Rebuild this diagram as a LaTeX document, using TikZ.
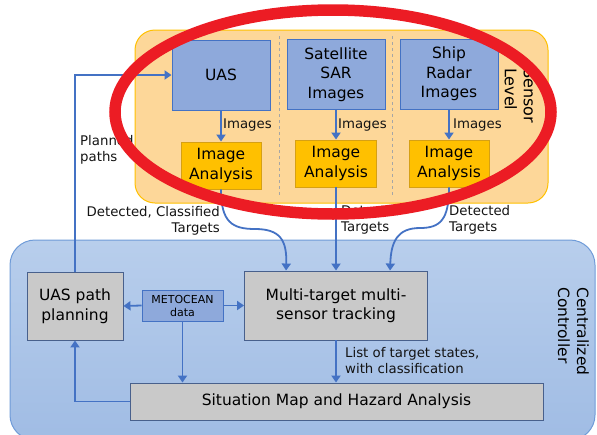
\documentclass[tikz,border=0pt]{standalone}
\usepackage{fontspec}
\setmainfont{DejaVu Sans}
\usetikzlibrary{arrows.meta,calc}

\definecolor{sensorbg}{RGB}{253,215,153}
\definecolor{sensorline}{RGB}{255,192,0}
\definecolor{ctrltop}{RGB}{184,206,236}
\definecolor{ctrlbot}{RGB}{160,188,228}
\definecolor{ctrlline}{RGB}{111,155,216}
\definecolor{srcfill}{RGB}{142,169,219}
\definecolor{srcline}{RGB}{68,114,196}
\definecolor{iafill}{RGB}{255,192,0}
\definecolor{ialine}{RGB}{214,160,20}
\definecolor{grayfill}{RGB}{201,201,201}
\definecolor{grayline}{RGB}{72,96,140}
\definecolor{flow}{RGB}{68,114,196}
\definecolor{markred}{RGB}{236,28,36}

\tikzset{
  boxtext/.style={font=\fontsize{15.5}{19.5}\selectfont, align=center, inner sep=0pt},
  srcbox/.style={boxtext, draw=srcline, fill=srcfill, line width=0.9pt},
  iabox/.style={boxtext, draw=ialine, fill=iafill, line width=0.9pt},
  procbox/.style={boxtext, draw=grayline, fill=grayfill, line width=0.9pt},
  flowarrow/.style={draw=flow, line width=1.8pt, -{Triangle[length=7pt,width=9pt]}},
  lbl/.style={font=\fontsize{13.3}{16}\selectfont, inner sep=0pt, text=black!92},
  grouplbl/.style={font=\fontsize{16}{19}\selectfont, inner sep=0pt, align=left, rotate=-90},
}

\begin{document}
\begin{tikzpicture}[x=1pt, y=-1pt]
\useasboundingbox (0,0) rectangle (597,434);

% group backgrounds
\draw[fill=sensorbg, draw=sensorline, line width=1pt, rounded corners=20pt]
  (135,30) rectangle (548,203);
\shade[top color=ctrltop, bottom color=ctrlbot, rounded corners=25pt]
  (10,240) rectangle (595,440);
\draw[draw=ctrlline, line width=1pt, rounded corners=25pt]
  (10,240) rectangle (595,440);

% separators between the three sensor columns
\draw[gray!70, dashed, line width=1pt] (279,36) -- (279,197);
\draw[gray!70, dashed, line width=1pt] (392,36) -- (392,197);

% sensor sources
\node[srcbox, minimum width=98pt, minimum height=70pt] (uas) at (221,75) {UAS};
\node[srcbox, minimum width=98pt, minimum height=70pt] (sat) at (336,74.5) {Satellite\\SAR\\Images};
\node[srcbox, minimum width=98pt, minimum height=70pt] (ship) at (449,74) {Ship\\Radar\\Images};

% image analysis stages
\node[iabox, minimum width=80pt, minimum height=47pt] (ia1) at (221,165.5) {Image\\Analysis};
\node[iabox, minimum width=81pt, minimum height=47pt] (ia2) at (336,163.5) {Image\\Analysis};
\node[iabox, minimum width=80pt, minimum height=47pt] (ia3) at (449,163.5) {Image\\Analysis};

% centralized controller blocks
\node[procbox, minimum width=96pt, minimum height=68pt] (plan) at (75,306) {UAS path\\planning};
\node[boxtext, draw=srcline, fill=srcfill, line width=0.9pt, minimum width=81pt, minimum height=31pt,
      font=\fontsize{11}{13}\selectfont] (meto) at (182.5,305.5) {METOCEAN\\data};
\node[procbox, minimum width=183pt, minimum height=69pt] (mtt) at (336,305.5) {Multi-target multi-\\sensor tracking};
\node[procbox, minimum width=413pt, minimum height=37pt] (sit) at (336.5,401.5) {Situation Map and Hazard Analysis};

% sensor level flows
\draw[flowarrow] (uas.south) -- (ia1.north);
\draw[flowarrow] (sat.south) -- (ia2.north);
\draw[flowarrow] (ship.south) -- (ia3.north);
\node[lbl, anchor=west] (img1) at (223,125) {Images};
\node[lbl, anchor=west] (img2) at (338,125) {Images};
\node[lbl, anchor=west] (img3) at (453,125) {Images};

% detections into the tracker
\coordinate (in1) at ($(mtt.north west)+(42,0)$);
\coordinate (in3) at ($(mtt.north west)+(146,0)$);
\draw[flowarrow] (ia1.south) .. controls (221,222) and (232,229) .. (255,229)
  .. controls (280,229) and (287,240) .. (in1);
\draw[flowarrow] (ia2.south) -- (mtt.north);
\draw[flowarrow] (ia3.south) .. controls (449,220) and (440,228) .. (420,228)
  .. controls (397,228) and (391,242) .. (in3);
\node[lbl, anchor=north east, align=right] (det1) at (220,206) {Detected, Classified\\Targets};
\node[lbl, anchor=north west, align=left] (det2) at (341,205) {Detected\\Targets};
\node[lbl, anchor=north west, align=left] (det3) at (449,205) {Detected\\Targets};

% controller flows
\draw[flowarrow] (plan.north) |- (uas.west);
\node[lbl, anchor=north west, align=left] (pp) at (80,135) {Planned\\paths};
\draw[flowarrow] (meto.west) -- (plan.east);
\draw[flowarrow] (meto.east) -- (mtt.west);
\draw[flowarrow] (meto.south) -- (meto.south |- sit.north);
\draw[flowarrow] (mtt.south) -- (mtt.south |- sit.north);
\node[lbl, anchor=north west, align=left] (lst) at (345,347) {List of target states,\\with classification};
\draw[flowarrow] (sit.west) -| (plan.south);

% group titles
\node[grouplbl, anchor=north west] (sensorlvl) at (536,68) {Sensor\\Level};
\node[grouplbl, anchor=north west, font=\fontsize{15.5}{19}\selectfont] (ctrl) at (589,287) {Centralized\\Controller};

% red highlight around the sensor level
\draw[markred, line width=11.5pt] (333,112) ellipse [x radius=218, y radius=102];
\end{tikzpicture}
\end{document}
